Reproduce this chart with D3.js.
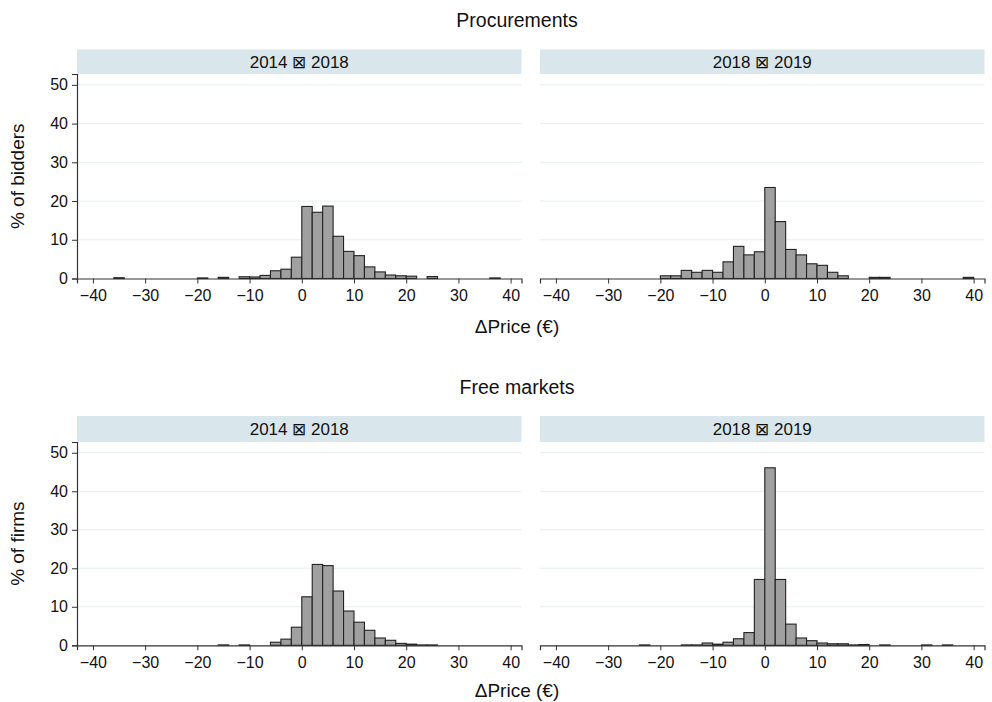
<!DOCTYPE html>
<html>
<head>
<meta charset="utf-8">
<script src="https://cdn.jsdelivr.net/npm/d3@7"></script>
<style>
  html, body { margin: 0; padding: 0; background: #fff; }
  svg { display: block; font-family: "Liberation Sans", Arial, Helvetica, sans-serif; }
</style>
</head>
<body>
<svg id="chart" width="992" height="702"></svg>
<script>
// Lower edge of each 2-euro bin of the price change
const binLower = [-36, -34, -32, -30, -28, -26, -24, -22, -20, -18, -16, -14, -12, -10, -8, -6, -4, -2,
                  0, 2, 4, 6, 8, 10, 12, 14, 16, 18, 20, 22, 24, 26, 28, 30, 32, 34, 36, 38];
const binWidth = 2;

// Share of bidders (%) in each bin, procurements
const procurements2014to2018 = [0.2, 0, 0, 0, 0, 0, 0, 0, 0.15, 0, 0.3, 0, 0.45, 0.4, 0.8, 2.0, 2.4, 5.5,
                                18.6, 17.1, 18.7, 10.9, 7.0, 5.9, 3.0, 1.7, 0.9, 0.7, 0.6, 0, 0.5, 0, 0, 0, 0, 0, 0.15, 0];
const procurements2018to2019 = [0, 0, 0, 0, 0, 0, 0, 0, 0.7, 0.7, 2.1, 1.6, 2.1, 1.6, 4.3, 8.3, 6.1, 6.9,
                                23.5, 14.7, 7.5, 6.1, 3.8, 3.4, 1.6, 0.7, 0, 0, 0.3, 0.3, 0, 0, 0, 0, 0, 0, 0, 0.3];

// Share of firms (%) in each bin, free markets
const freeMarkets2014to2018 = [0, 0, 0, 0, 0, 0, 0, 0, 0, 0, 0.1, 0, 0.1, 0, 0, 0.8, 1.6, 4.7,
                               12.6, 21.0, 20.7, 14.1, 8.9, 6.0, 3.9, 1.9, 1.3, 0.5, 0.3, 0.1, 0.1, 0, 0, 0, 0, 0, 0, 0];
const freeMarkets2018to2019 = [0, 0, 0, 0, 0, 0, 0.1, 0, 0, 0, 0.1, 0.1, 0.6, 0.3, 0.8, 1.7, 3.3, 17.1,
                               46.1, 17.1, 5.5, 1.9, 1.2, 0.6, 0.4, 0.4, 0.1, 0.2, 0, 0.1, 0, 0, 0, 0.1, 0, 0.1, 0, 0];

const xTicks = [-40, -30, -20, -10, 0, 10, 20, 30, 40];
const yTicks = [0, 10, 20, 30, 40, 50];
const periodLabels = ["2014 \u22A0 2018", "2018 \u22A0 2019"];
const groupTitles = ["Procurements", "Free markets"];
const yTitles = ["% of bidders", "% of firms"];
const xTitle = "\u0394Price (\u20AC)";

const svg = d3.select("#chart");

const colLeft = [77, 540];
const colWidth = 444.5;
const rows = [
  { stripTop: 49.5, plotTop: 74, plotBottom: 278.5, titleY: 27, xTitleY: 333, series: [procurements2014to2018, procurements2018to2019] },
  { stripTop: 416, plotTop: 442, plotBottom: 645.3, titleY: 394, xTitleY: 697, series: [freeMarkets2014to2018, freeMarkets2018to2019] }
];
const titleCenter = 517;
const tickFont = 16;

rows.forEach((row, r) => {
  svg.append("text")
    .attr("x", titleCenter).attr("y", row.titleY)
    .attr("text-anchor", "middle")
    .attr("font-size", 19.5).attr("fill", "#111")
    .text(groupTitles[r]);

  svg.append("text")
    .attr("x", titleCenter).attr("y", row.xTitleY)
    .attr("text-anchor", "middle")
    .attr("font-size", 19).attr("fill", "#111")
    .text(xTitle);

  svg.append("text")
    .attr("transform", `translate(24,${(row.plotTop + row.plotBottom) / 2}) rotate(-90)`)
    .attr("text-anchor", "middle")
    .attr("font-size", 19).attr("fill", "#111")
    .text(yTitles[r]);

  const y = d3.scaleLinear().domain([0, 52.8]).range([row.plotBottom, row.plotTop]);

  row.series.forEach((values, c) => {
    const left = colLeft[c];
    const x = d3.scaleLinear().domain([-43.05, 42.08]).range([left, left + colWidth]);
    const g = svg.append("g");

    // facet strip
    g.append("rect")
      .attr("x", left).attr("y", row.stripTop)
      .attr("width", colWidth).attr("height", row.plotTop - row.stripTop)
      .attr("fill", "#d9e6ec");
    g.append("text")
      .attr("x", left + colWidth / 2).attr("y", row.stripTop + (row.plotTop - row.stripTop) / 2 + 6)
      .attr("text-anchor", "middle")
      .attr("font-size", 17).attr("fill", "#111")
      .text(periodLabels[c]);

    // horizontal gridlines
    g.selectAll("line.grid")
      .data(yTicks.filter(t => t > 0))
      .join("line")
      .attr("class", "grid")
      .attr("x1", left).attr("x2", left + colWidth)
      .attr("y1", d => y(d)).attr("y2", d => y(d))
      .attr("stroke", "#e6eff1").attr("stroke-width", 1);

    // histogram bars
    const bins = binLower.map((lo, i) => ({ lo, v: values[i] })).filter(d => d.v > 0);
    g.selectAll("rect.bar")
      .data(bins)
      .join("rect")
      .attr("class", "bar")
      .attr("x", d => x(d.lo))
      .attr("width", d => x(d.lo + binWidth) - x(d.lo))
      .attr("y", d => y(d.v))
      .attr("height", d => Math.max(0.01, y(0) - y(d.v)))
      .attr("fill", "#a0a0a0")
      .attr("stroke", "#222")
      .attr("stroke-width", 1.1);

    // x axis
    const xAxis = d3.axisBottom(x).tickValues(xTicks).tickSize(5).tickPadding(6.5).tickFormat(d3.format("d"));
    const xg = g.append("g")
      .attr("transform", `translate(0,${row.plotBottom})`)
      .call(xAxis);
    xg.select(".domain").attr("stroke", "#333").attr("stroke-width", 1.2);
    xg.selectAll(".tick line").attr("stroke", "#333");
    xg.selectAll(".tick text").attr("font-size", tickFont).attr("fill", "#111")
      .attr("font-family", "\"Liberation Sans\", Arial, sans-serif");

    // y axis only on the left column
    if (c === 0) {
      const yAxis = d3.axisLeft(y).tickValues(yTicks).tickSize(5).tickPadding(4).tickFormat(d3.format("d"));
      const yg = g.append("g")
        .attr("transform", `translate(${left},0)`)
        .call(yAxis);
      yg.select(".domain").attr("stroke", "#333").attr("stroke-width", 1.2);
      yg.selectAll(".tick line").attr("stroke", "#333");
      yg.selectAll(".tick text").attr("font-size", tickFont).attr("fill", "#111")
        .attr("font-family", "\"Liberation Sans\", Arial, sans-serif");
    }
  });
});
</script>
</body>
</html>
